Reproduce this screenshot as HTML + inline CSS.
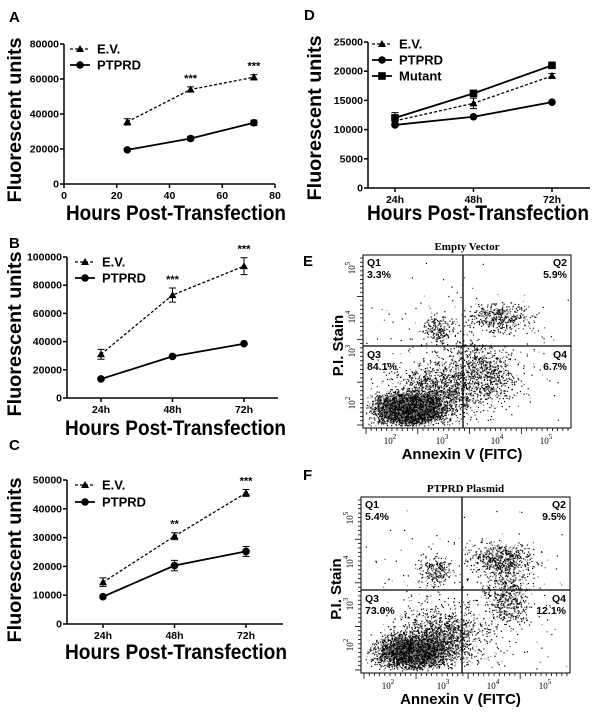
<!DOCTYPE html>
<html><head><meta charset="utf-8"><style>
html,body{margin:0;padding:0;background:#fff}
svg{display:block;font-family:"Liberation Sans",sans-serif}
</style></head><body>
<svg id="fig" width="600" height="723" viewBox="0 0 600 723" xmlns="http://www.w3.org/2000/svg"></svg>
<script>
// ---- Panel A data ----
const aHours = [24, 48, 72];
const aEV = [35500, 54000, 61000];
const aEVErr = [1800, 1500, 1500];
const aPT = [19500, 26000, 35000];
const aPTErr = [600, 1200, 1500];
const aStars = ["", "***", "***"];
const aYTicks = [0, 20000, 40000, 60000, 80000];
const aXTicks = [0, 20, 40, 60, 80];
// ---- Panel B data ----
const bCats = ["24h", "48h", "72h"];
const bEV = [31000, 73000, 93500];
const bEVErr = [3500, 5000, 6000];
const bPT = [13500, 29500, 38500];
const bPTErr = [700, 800, 900];
const bStars = ["", "***", "***"];
const bYTicks = [0, 20000, 40000, 60000, 80000, 100000];
// ---- Panel C data ----
const cCats = ["24h", "48h", "72h"];
const cEV = [14500, 30500, 45500];
const cEVErr = [1500, 1200, 1200];
const cPT = [9500, 20300, 25200];
const cPTErr = [500, 1800, 1700];
const cStars = ["", "**", "***"];
const cYTicks = [0, 10000, 20000, 30000, 40000, 50000];
// ---- Panel D data ----
const dCats = ["24h", "48h", "72h"];
const dEV = [11500, 14500, 19200];
const dEVErr = [900, 900, 400];
const dPT = [10800, 12200, 14700];
const dMut = [12000, 16200, 21000];
const dMutErr = [900, 300, 300];
const dYTicks = [0, 5000, 10000, 15000, 20000, 25000];
// ---- Flow cytometry data ----
const eQuadLabels = ["Q1", "Q2", "Q3", "Q4"];
const eQuadValues = ["3.3%", "5.9%", "84.1%", "6.7%"];
const fQuadValues = ["5.4%", "9.5%", "73.0%", "12.1%"];
// clusters: [centerX, centerY, spreadX, spreadY, count] in fractions of plot box
const eClusters = [[0.22,0.89,0.11,0.06,4200],[0.36,0.80,0.15,0.11,1300],[0.50,0.62,0.08,0.10,300],[0.36,0.43,0.05,0.05,200],[0.66,0.36,0.10,0.06,400],[0.62,0.70,0.07,0.10,380],[0.5,0.6,0.35,0.3,350]];
const fClusters = [[0.24,0.88,0.11,0.06,3600],[0.38,0.80,0.14,0.11,1300],[0.70,0.55,0.07,0.12,550],[0.35,0.42,0.06,0.05,220],[0.67,0.35,0.10,0.06,550],[0.5,0.6,0.35,0.3,380]];
const flowXTicks = ["2", "3", "4", "5"];

const NS = "http://www.w3.org/2000/svg";
const svg = document.getElementById("fig");
function el(tag, attrs, parent) {
  const e = document.createElementNS(NS, tag);
  for (const k in attrs) e.setAttribute(k, attrs[k]);
  (parent || svg).appendChild(e);
  return e;
}
function txt(s, attrs, parent) { const t = el("text", attrs, parent); t.textContent = s; return t; }

function marker(g, type, x, y) {
  let m;
  if (type === "tri") m = el("polygon", {points: `${x},${y-4} ${x+4},${y+3} ${x-4},${y+3}`, fill: "#000"}, g);
  else if (type === "circ") m = el("circle", {cx: x, cy: y, r: 3.8, fill: "#000"}, g);
  else m = el("rect", {x: x-3.8, y: y-3.8, width: 7.6, height: 7.6, fill: "#000"}, g);
  return m;
}

function lineChart(c) {
  const g = el("g", {});
  
  
  const yMax = c.yTicks[c.yTicks.length - 1];
  const ys = v => c.y0 - (v / yMax) * (c.y0 - c.y1);
  const xs = c.xs;
  const yAxis = el("line", {x1: c.left, y1: c.y0, x2: c.left, y2: c.y1, stroke: "#000", "stroke-width": 1.5}, g);
  
  
  const xAxis = el("line", {x1: c.left, y1: c.y0, x2: c.right, y2: c.y0, stroke: "#000", "stroke-width": 1.5}, g);
  
  
  c.yTicks.forEach(v => {
    el("line", {x1: c.left - 4, y1: ys(v), x2: c.left, y2: ys(v), stroke: "#000", "stroke-width": 1.5}, g);
    const t = txt(String(v), {x: c.left - 5, y: ys(v) + 3.5, "text-anchor": "end", "font-size": 10.5, "font-weight": "bold"}, g);
    
    
  });
  c.xTickVals.forEach((v, i) => {
    el("line", {x1: xs(v), y1: c.y0, x2: xs(v), y2: c.y0 + 4, stroke: "#000", "stroke-width": 1.5}, g);
    const t = txt(c.xTickLabels[i], {x: xs(v), y: c.y0 + 15, "text-anchor": "middle", "font-size": 10.5, "font-weight": "bold"}, g);
    
    
  });
  c.series.forEach(s => {
    const sg = el("g", {}, g);
    
    
    const pts = s.vals.map((v, i) => [xs(c.xv[i]), ys(v)]);
    el("polyline", {points: pts.map(p => p.join(",")).join(" "), fill: "none", stroke: "#000", "stroke-width": s.dash ? 1.3 : 1.8, "stroke-dasharray": s.dash ? "3,2" : "none"}, sg);
    s.vals.forEach((v, i) => {
      const e = s.err ? s.err[i] : 0;
      if (e) {
        const x = xs(c.xv[i]);
        el("path", {d: `M${x},${ys(v-e)}V${ys(v+e)}M${x-3.5},${ys(v+e)}H${x+3.5}M${x-3.5},${ys(v-e)}H${x+3.5}`, stroke: "#000", "stroke-width": 1, fill: "none"}, sg);
      }
      const m = marker(sg, s.marker, xs(c.xv[i]), ys(v));
      
      
      if (s.stars && s.stars[i]) {
        const st = txt(s.stars[i], {x: xs(c.xv[i]), y: ys(v + (s.err ? s.err[i] : 0)) - 5, "text-anchor": "middle", "font-size": 11, "font-weight": "bold"}, sg);
        
        
      }
    });
  });
  c.series.forEach((s, i) => {
    const ly = c.legY + i * c.legStep;
    const lg = el("g", {}, g);
    
    
    el("line", {x1: c.legX, y1: ly, x2: c.legX + 20, y2: ly, stroke: "#000", "stroke-width": s.dash ? 1.3 : 1.8, "stroke-dasharray": s.dash ? "3,2" : "none"}, lg);
    marker(lg, s.marker, c.legX + 10, ly);
    txt(s.label, {x: c.legX + 27, y: ly + 4.5, "font-size": 13, "font-weight": "bold"}, lg);
  });
  const yt = txt("Fluorescent units", {transform: `translate(${c.yTitleX},${c.yTitleY}) rotate(-90)`, "text-anchor": "middle", "font-size": 19, "font-weight": "bold", textLength: c.yTitleLen, lengthAdjust: "spacingAndGlyphs"}, g);
  
  
  const xt = txt("Hours Post-Transfection", {x: c.xTitleX, y: c.xTitleY, "font-size": 21, "font-weight": "bold", textLength: c.xTitleLen, lengthAdjust: "spacingAndGlyphs"}, g);
  
  
  const pl = txt(c.panel, {x: c.panelX, y: c.panelY, "font-size": 15, "font-weight": "bold"}, g);
  
  
}

function catScale(left, pad, step) { return i => left + pad + i * step; }

lineChart({name: "panel-a-chart", panel: "A", panelX: 9, panelY: 22, left: 64, right: 275, y0: 184, y1: 44,
  yTicks: aYTicks, xs: v => 64 + v / 80 * (275 - 64), xTickVals: aXTicks, xTickLabels: aXTicks.map(String), xv: aHours,
  series: [{key: "ev", label: "E.V.", vals: aEV, err: aEVErr, marker: "tri", dash: true, stars: aStars},
           {key: "ptprd", label: "PTPRD", vals: aPT, err: aPTErr, marker: "circ"}],
  legX: 70, legY: 49, legStep: 16, yTitleX: 21, yTitleY: 120, yTitleLen: 165, xTitleX: 66, xTitleY: 220, xTitleLen: 220});
lineChart({name: "panel-b-chart", panel: "B", panelX: 9, panelY: 248, left: 67, right: 278, y0: 398, y1: 257,
  yTicks: bYTicks, xs: catScale(67, 34, 71.5), xTickVals: [0,1,2], xTickLabels: bCats, xv: [0,1,2],
  series: [{key: "ev", label: "E.V.", vals: bEV, err: bEVErr, marker: "tri", dash: true, stars: bStars},
           {key: "ptprd", label: "PTPRD", vals: bPT, err: bPTErr, marker: "circ"}],
  legX: 75, legY: 262, legStep: 16, yTitleX: 21, yTitleY: 334, yTitleLen: 165, xTitleX: 65, xTitleY: 435, xTitleLen: 221});
lineChart({name: "panel-c-chart", panel: "C", panelX: 9, panelY: 450, left: 67, right: 283, y0: 624, y1: 480,
  yTicks: cYTicks, xs: catScale(67, 36, 71.5), xTickVals: [0,1,2], xTickLabels: cCats, xv: [0,1,2],
  series: [{key: "ev", label: "E.V.", vals: cEV, err: cEVErr, marker: "tri", dash: true, stars: cStars},
           {key: "ptprd", label: "PTPRD", vals: cPT, err: cPTErr, marker: "circ"}],
  legX: 75, legY: 485, legStep: 17, yTitleX: 21, yTitleY: 560, yTitleLen: 165, xTitleX: 65, xTitleY: 659, xTitleLen: 222});
lineChart({name: "panel-d-chart", panel: "D", panelX: 304, panelY: 20, left: 368, right: 590, y0: 188, y1: 42,
  yTicks: dYTicks, xs: catScale(368, 27, 78.5), xTickVals: [0,1,2], xTickLabels: dCats, xv: [0,1,2],
  series: [{key: "ev", label: "E.V.", vals: dEV, err: dEVErr, marker: "tri", dash: true},
           {key: "ptprd", label: "PTPRD", vals: dPT, marker: "circ"},
           {key: "mutant", label: "Mutant", vals: dMut, err: dMutErr, marker: "sq"}],
  legX: 372, legY: 44, legStep: 16, yTitleX: 321, yTitleY: 118, yTitleLen: 165, xTitleX: 367, xTitleY: 220, xTitleLen: 222});

let seed = 7;
function rnd() { seed = (seed * 16807) % 2147483647; return (seed - 1) / 2147483646; }
function gauss() { return (rnd() + rnd() + rnd() + rnd() - 2) / 0.8165; }

function flow(c) {
  const g = el("g", {});
  
  
  const w = c.x1 - c.x0, h = c.y1 - c.y0;
  const dots = el("g", {}, g);
  
  
  c.clusters.forEach(cl => {
    for (let i = 0; i < cl[4]; i++) {
      const fx = cl[0] + gauss() * cl[2], fy = cl[1] + gauss() * cl[3];
      if (fx < 0.01 || fx > 0.99 || fy < 0.02 || fy > 0.985) continue;
      const shade = rnd() < 0.65 ? "#000" : (rnd() < 0.5 ? "#555" : "#999");
      el("rect", {x: (c.x0 + fx * w).toFixed(1), y: (c.y0 + fy * h).toFixed(1), width: 1.2, height: 1.2, fill: shade}, dots);
    }
  });
  const box = el("rect", {x: c.x0, y: c.y0, width: w, height: h, fill: "none", stroke: "#000", "stroke-width": 1}, g);
  
  
  el("line", {x1: c.qx, y1: c.y0, x2: c.qx, y2: c.y1, stroke: "#000", "stroke-width": 1.3}, g);
  el("line", {x1: c.x0, y1: c.qy, x2: c.x1, y2: c.qy, stroke: "#000", "stroke-width": 1.3}, g);
  const pos = [[c.x0 + 4, c.y0 + 11, "start"], [c.x1 - 4, c.y0 + 11, "end"], [c.x0 + 4, c.qy + 12, "start"], [c.x1 - 4, c.qy + 12, "end"]];
  pos.forEach((p, i) => {
    const q = el("g", {}, g);
    
    
    txt(eQuadLabels[i], {x: p[0], y: p[1], "text-anchor": p[2], "font-size": 10.5, "font-weight": "bold"}, q);
    txt(c.values[i], {x: p[0], y: p[1] + 12, "text-anchor": p[2], "font-size": 10.5, "font-weight": "bold"}, q);
  });
  for (let i = 0; i < 40; i++) {
    const x = c.x0 + 3 + i * (w - 6) / 39;
    el("line", {x1: x, y1: c.y1, x2: x, y2: c.y1 + (i % 10 === 0 ? 6 : 3), stroke: "#000", "stroke-width": 0.8}, g);
    const y = c.y1 - 3 - i * (h - 6) / 39;
    el("line", {x1: c.x0, y1: y, x2: c.x0 - (i % 10 === 0 ? 6 : 3), y2: y, stroke: "#000", "stroke-width": 0.8}, g);
  }
  flowXTicks.forEach((e, i) => {
    const t = el("text", {x: c.xTickX[i], y: c.y1 + 16, "text-anchor": "middle", "font-size": 9, "font-family": "Liberation Serif, serif"}, g);
    
    
    t.innerHTML = `10<tspan dy="-5" font-size="7">${e}</tspan>`;
  });
  ["2", "3", "4", "5"].forEach((e, i) => {
    const t = el("text", {transform: `translate(${c.x0 - 8},${c.yTickY[i]}) rotate(-90)`, "text-anchor": "middle", "font-size": 9, "font-family": "Liberation Serif, serif"}, g);
    
    
    t.innerHTML = `10<tspan dy="-5" font-size="7">${e}</tspan>`;
  });
  const tt = txt(c.title, {x: (c.x0 + c.x1) / 2, y: c.y0 - 5, "text-anchor": "middle", "font-size": 11, "font-weight": "bold", "font-family": "Liberation Serif, serif"}, g);
  
  
  const xt = txt("Annexin V (FITC)", {x: (c.x0 + c.x1) / 2 - 5, y: c.y1 + 31, "text-anchor": "middle", "font-size": 15, "font-weight": "bold"}, g);
  
  
  const yt = txt("P.I. Stain", {transform: `translate(${c.x0 - 20},${(c.y0 + c.y1) / 2 + 4}) rotate(-90)`, "text-anchor": "middle", "font-size": 15, "font-weight": "bold"}, g);
  
  
  const pl = txt(c.panel, {x: 303, y: c.panelY, "font-size": 15, "font-weight": "bold"}, g);
  
  
}

flow({name: "panel-e-flow", panel: "E", panelY: 266, title: "Empty Vector", x0: 363, x1: 571, y0: 255, y1: 428, qx: 463, qy: 346,
  clusters: eClusters, values: eQuadValues, xTickX: [390, 442, 497, 546], yTickY: [403, 351, 317, 268]});
flow({name: "panel-f-flow", panel: "F", panelY: 480, title: "PTPRD Plasmid", x0: 361, x1: 570, y0: 497, y1: 673, qx: 462, qy: 590,
  clusters: fClusters, values: fQuadValues, xTickX: [388, 443, 493, 545], yTickY: [645, 604, 562, 518]});
</script>
</body></html>
